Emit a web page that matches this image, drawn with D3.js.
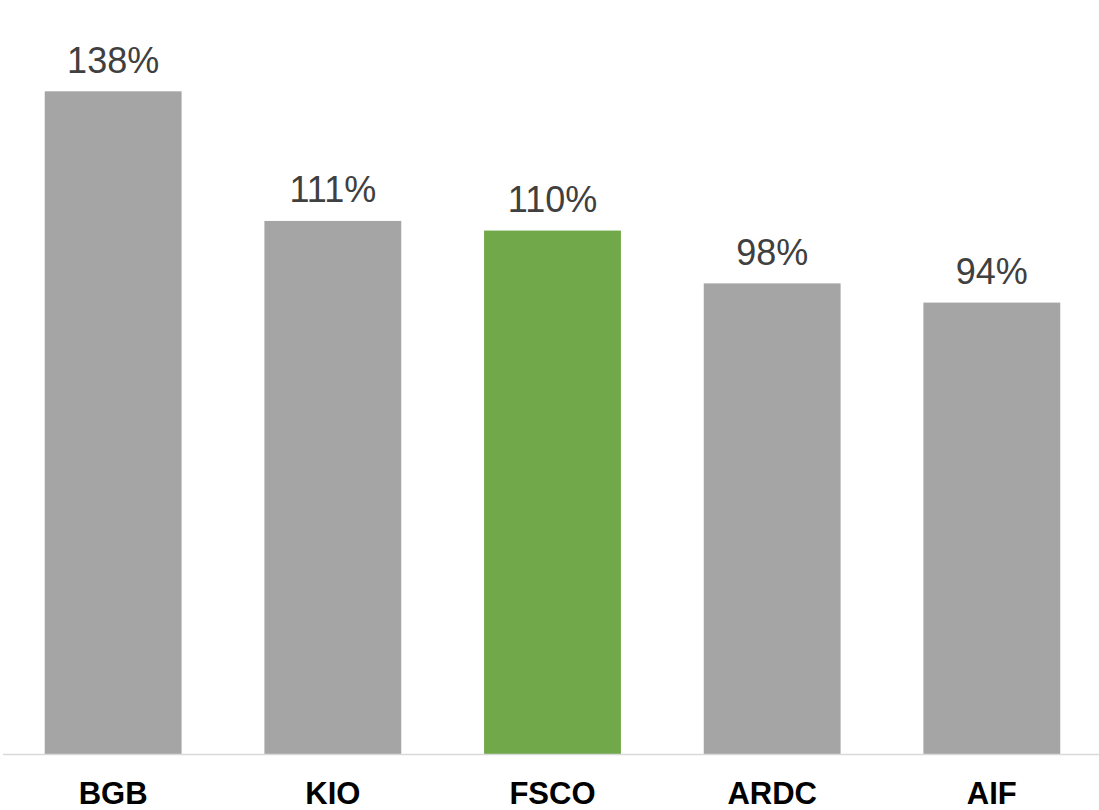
<!DOCTYPE html>
<html><head><meta charset="utf-8">
<script src="https://cdn.jsdelivr.net/npm/d3@7"></script>
<style>html,body{margin:0;padding:0;background:#fff;}svg{display:block;}</style>
</head><body>
<svg id="chart" width="1099" height="810"></svg>
<script>
const categories = ["BGB", "KIO", "FSCO", "ARDC", "AIF"];
const values = [138, 111, 109, 98, 94];
const valueLabels = ["138%", "111%", "110%", "98%", "94%"];
const highlight = "FSCO";

const W = 1099, H = 810, baseY = 754;
const svg = d3.select("#chart");
const x = d3.scaleBand().domain(categories).range([3, 1102]).paddingInner(0.377).paddingOuter(0.19);
const y = d3.scaleLinear().domain([0, 138]).range([baseY, 91.3]);

svg.selectAll("rect.bar").data(categories).enter().append("rect")
  .attr("class", "bar")
  .attr("x", d => x(d))
  .attr("width", x.bandwidth())
  .attr("y", (d, i) => y(values[i]))
  .attr("height", (d, i) => baseY - y(values[i]))
  .attr("fill", d => d === highlight ? "#70A84A" : "#A5A5A5");

svg.append("line").attr("x1", 3).attr("x2", W).attr("y1", baseY + 0.5).attr("y2", baseY + 0.5)
  .attr("stroke", "#D9D9D9").attr("stroke-width", 1.5);

svg.selectAll("text.val").data(categories).enter().append("text")
  .attr("class", "val")
  .attr("x", d => x(d) + x.bandwidth() / 2)
  .attr("y", (d, i) => y(values[i]) - 18.6)
  .attr("text-anchor", "middle")
  .attr("font-family", "Liberation Sans, Arial, sans-serif")
  .attr("font-size", 36)
  .attr("fill", "#404040")
  .text((d, i) => valueLabels[i]);

const xAxis = d3.axisBottom(x).tickSize(0).tickPadding(0);
const g = svg.append("g").attr("transform", `translate(0,${baseY})`).call(xAxis);
g.select(".domain").remove();
g.selectAll("text")
  .attr("dy", null)
  .attr("y", 49.5)
  .attr("font-family", "Liberation Sans, Arial, sans-serif")
  .attr("font-size", 31)
  .attr("font-weight", "bold")
  .attr("fill", "#000");
</script>
</body></html>
